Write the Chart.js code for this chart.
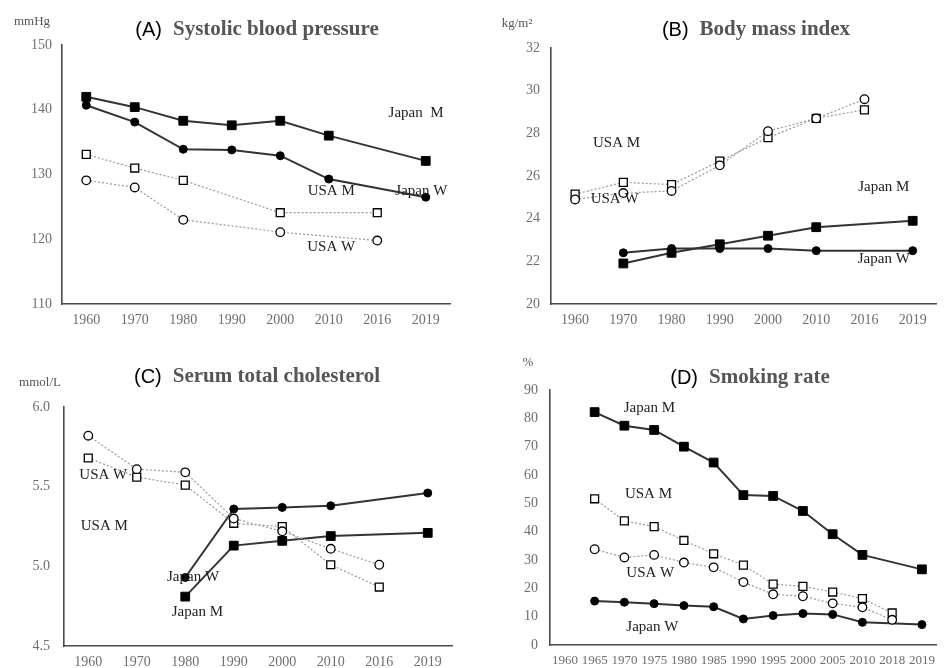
<!DOCTYPE html>
<html>
<head>
<meta charset="utf-8">
<script src="https://cdn.jsdelivr.net/npm/chart.js@4"></script>
<style>
  body { margin: 0; background: #fff; }
  #wrap { position: relative; width: 944px; height: 668px; }
  canvas { position: absolute; }
</style>
</head>
<body>
<div id="wrap">
  <canvas id="chartA" width="472" height="334" style="left:0;top:0"></canvas>
  <canvas id="chartB" width="472" height="334" style="left:472px;top:0"></canvas>
  <canvas id="chartC" width="472" height="334" style="left:0;top:334px"></canvas>
  <canvas id="chartD" width="472" height="334" style="left:472px;top:334px"></canvas>
</div>
<script>
// categories
const yearsABC = ['1960', '1970', '1980', '1990', '2000', '2010', '2016', '2019'];
const yearsD = ['1960', '1965', '1970', '1975', '1980', '1985', '1990', '1995', '2000', '2005', '2010', '2018', '2019'];

// (A) systolic blood pressure, mmHg
const sbpJapanM = [142.0, 140.4, 138.3, 137.6, 138.3, 136.0, null, 132.1];
const sbpJapanW = [140.7, 138.1, 133.9, 133.8, 132.9, 129.3, null, 126.5];
const sbpUsaM = [133.1, 131.0, 129.1, null, 124.1, null, 124.1, null];
const sbpUsaW = [129.1, 128.0, 123.0, null, 121.1, null, 119.8, null];

// (B) body mass index, kg/m2
const bmiJapanM = [null, 21.9, 22.4, 22.8, 23.2, 23.6, null, 23.9];
const bmiJapanW = [null, 22.4, 22.6, 22.6, 22.6, 22.5, null, 22.5];
const bmiUsaM = [25.15, 25.7, 25.6, 26.7, 27.8, 28.7, 29.1, null];
const bmiUsaW = [24.9, 25.2, 25.3, 26.5, 28.1, 28.7, 29.6, null];

// (C) serum total cholesterol, mmol/L
const cholJapanM = [null, null, 4.81, 5.13, 5.16, 5.19, null, 5.21];
const cholJapanW = [null, null, 4.93, 5.36, 5.37, 5.38, null, 5.46];
const cholUsaM = [5.68, 5.56, 5.51, 5.27, 5.25, 5.01, 4.87, null];
const cholUsaW = [5.82, 5.61, 5.59, 5.30, 5.22, 5.11, 5.01, null];

// (D) smoking rate, %
const smkJapanM = [null, 82.2, 77.4, 75.9, 70.0, 64.4, 52.9, 52.6, 47.3, 39.1, 31.8, null, 26.7];
const smkJapanW = [null, 15.5, 15.1, 14.6, 13.9, 13.5, 9.2, 10.4, 11.1, 10.8, 8.0, null, 7.2];
const smkUsaM = [null, 51.6, 43.8, 41.8, 36.9, 32.2, 28.2, 21.5, 20.7, 18.7, 16.4, 11.3, null];
const smkUsaW = [null, 33.8, 30.9, 31.8, 29.1, 27.4, 22.2, 17.9, 17.2, 14.7, 13.3, 8.9, null];

// tick settings
const ticksA = { min: 110, max: 150, step: 10 };
const ticksB = { min: 20, max: 32, step: 2 };
const ticksC = { min: 4.5, max: 6.0, step: 0.5 };
const ticksD = { min: 0, max: 90, step: 10 };

const SERIF = '"Liberation Serif", "Times New Roman", serif';
const SANS = '"Liberation Sans", Arial, sans-serif';

function japanSet(data, style) {
  return {
    data: data,
    borderColor: '#333',
    borderWidth: 2,
    pointStyle: style,
    pointRadius: style === 'rect' ? 6.2 : 4,
    pointBackgroundColor: '#000',
    pointBorderColor: '#000',
    pointBorderWidth: 1,
    spanGaps: true
  };
}

function usaSet(data, style) {
  return {
    data: data,
    borderColor: '#9a9a9a',
    borderWidth: 1.2,
    borderDash: [2, 2],
    pointStyle: style,
    pointRadius: style === 'rect' ? 5.6 : 4.3,
    pointBackgroundColor: '#fff',
    pointBorderColor: '#000',
    pointBorderWidth: 1.3,
    spanGaps: true
  };
}

// draws title, unit text and series labels
const annotate = {
  id: 'annotate',
  afterDraw(chart, args, opts) {
    const ctx = chart.ctx;
    const xs = chart.scales.x, ys = chart.scales.y;
    ctx.save();
    ctx.textBaseline = 'middle';
    // title
    ctx.font = '20px ' + SANS;
    const w1 = ctx.measureText(opts.letter).width;
    ctx.font = 'bold 21px ' + SERIF;
    const w2 = ctx.measureText(opts.title).width;
    const gap = 11;
    let x0 = opts.titleX - (w1 + gap + w2) / 2;
    ctx.textAlign = 'left';
    ctx.fillStyle = '#000';
    ctx.font = '20px ' + SANS;
    ctx.fillText(opts.letter, x0, opts.titleY);
    ctx.fillStyle = '#555';
    ctx.font = 'bold 21px ' + SERIF;
    ctx.fillText(opts.title, x0 + w1 + gap, opts.titleY);
    // unit
    ctx.font = '13px ' + SERIF;
    ctx.fillStyle = '#555';
    ctx.textAlign = 'center';
    ctx.fillText(opts.unit, opts.unitX, opts.unitY);
    // series labels
    ctx.font = '15px ' + SERIF;
    ctx.fillStyle = '#222';
    opts.labels.forEach(l => {
      ctx.fillText(l.text, xs.getPixelForValue(l.at[0]), ys.getPixelForValue(l.at[1]));
    });
    ctx.restore();
  }
};

function makePanel(id, cfg) {
  return new Chart(document.getElementById(id), {
    type: 'line',
    data: {
      labels: cfg.labels,
      datasets: [
        usaSet(cfg.usaW, 'circle'),
        usaSet(cfg.usaM, 'rect'),
        japanSet(cfg.japanW, 'circle'),
        japanSet(cfg.japanM, 'rect')
      ]
    },
    options: {
      responsive: false,
      devicePixelRatio: 1,
      animation: false,
      layout: { padding: { left: 0, top: cfg.top, right: cfg.right, bottom: 0 } },
      plugins: {
        legend: { display: false },
        tooltip: { enabled: false },
        annotate: cfg.annot
      },
      scales: {
        x: {
          offset: true,
          grid: { display: false },
          border: { display: true, color: '#4a4a4a', width: 1.6 },
          ticks: {
            color: '#6e6e6e',
            font: { family: SERIF, size: cfg.xFont || 14 },
            padding: 0,
            autoSkip: false,
            maxRotation: 0,
            minRotation: 0
          },
          afterFit(s) { s.height = cfg.xHeight; }
        },
        y: {
          min: cfg.ticks.min,
          max: cfg.ticks.max,
          grid: { display: false },
          border: { display: true, color: '#4a4a4a', width: 1.6 },
          ticks: {
            stepSize: cfg.ticks.step,
            color: '#6e6e6e',
            font: { family: SERIF, size: 14 },
            padding: cfg.yPad,
            callback: v => cfg.decimals ? v.toFixed(cfg.decimals) : v
          },
          afterFit(s) { s.width = cfg.yWidth; }
        }
      }
    },
    plugins: [annotate]
  });
}

makePanel('chartA', {
  labels: yearsABC, japanM: sbpJapanM, japanW: sbpJapanW, usaM: sbpUsaM, usaW: sbpUsaW,
  ticks: ticksA, top: 45, right: 22, yWidth: 62, xHeight: 30, yPad: 2,
  annot: {
    letter: '(A)', title: 'Systolic blood pressure', titleX: 257, titleY: 30,
    unit: 'mmHg', unitX: 32, unitY: 22,
    labels: [
      { text: 'Japan  M', at: [6.8, 139.5] },
      { text: 'USA M', at: [5.05, 127.5] },
      { text: 'Japan W', at: [6.91, 127.5] },
      { text: 'USA W', at: [5.05, 118.8] }
    ]
  }
});

makePanel('chartB', {
  labels: yearsABC, japanM: bmiJapanM, japanW: bmiJapanW, usaM: bmiUsaM, usaW: bmiUsaW,
  ticks: ticksB, top: 48, right: 0, yWidth: 79, xHeight: 30, yPad: 3,
  annot: {
    letter: '(B)', title: 'Body mass index', titleX: 284, titleY: 30,
    unit: 'kg/m²', unitX: 45, unitY: 24,
    labels: [
      { text: 'USA M', at: [0.86, 27.55] },
      { text: 'USA W', at: [0.82, 24.9] },
      { text: 'Japan M', at: [6.4, 25.5] },
      { text: 'Japan W', at: [6.4, 22.1] }
    ]
  }
});

makePanel('chartC', {
  labels: yearsABC, japanM: cholJapanM, japanW: cholJapanW, usaM: cholUsaM, usaW: cholUsaW,
  ticks: ticksC, top: 73, right: 20, yWidth: 64, xHeight: 22, yPad: 6, decimals: 1,
  annot: {
    letter: '(C)', title: 'Serum total cholesterol', titleX: 257, titleY: 43,
    unit: 'mmol/L', unitX: 40, unitY: 49,
    labels: [
      { text: 'USA W', at: [0.31, 5.57] },
      { text: 'USA M', at: [0.33, 5.25] },
      { text: 'Japan W', at: [2.16, 4.93] },
      { text: 'Japan M', at: [2.25, 4.71] }
    ]
  }
});

makePanel('chartD', {
  labels: yearsD, japanM: smkJapanM, japanW: smkJapanW, usaM: smkUsaM, usaW: smkUsaW,
  ticks: ticksD, top: 56, right: 0, yWidth: 78, xHeight: 23, yPad: 4, xFont: 13,
  annot: {
    letter: '(D)', title: 'Smoking rate', titleX: 278, titleY: 44,
    unit: '%', unitX: 56, unitY: 29,
    labels: [
      { text: 'Japan M', at: [2.84, 83.6] },
      { text: 'USA M', at: [2.81, 53.3] },
      { text: 'USA W', at: [2.87, 25.4] },
      { text: 'Japan W', at: [2.94, 6.3] }
    ]
  }
});
</script>
</body>
</html>
